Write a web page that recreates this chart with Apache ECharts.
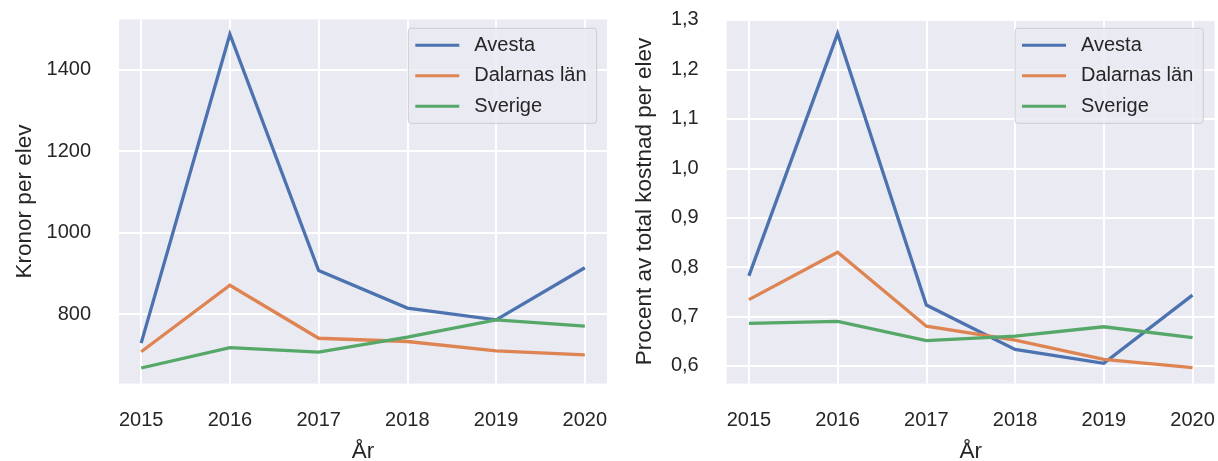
<!DOCTYPE html>
<html>
<head>
<meta charset="utf-8">
<script src="https://cdn.jsdelivr.net/npm/echarts@6/dist/echarts.min.js"></script>
<style>
html,body{margin:0;padding:0;background:#fff;}
#c{width:1218px;height:461px;}
</style>
</head>
<body>
<div id="c"></div>
<script>
// ---- data ----
const years = [2015, 2016, 2017, 2018, 2019, 2020];
const seriesNames = ['Avesta', 'Dalarnas län', 'Sverige'];
// Left panel: Kronor per elev
const kronorAvesta   = [729, 1487, 907, 815, 786, 914];
const kronorDalarna  = [708, 871, 741, 733, 710, 700];
const kronorSverige  = [668, 718, 707, 744, 786, 771];
// Right panel: Procent av total kostnad per elev
const procentAvesta  = [0.782, 1.273, 0.723, 0.633, 0.605, 0.743];
const procentDalarna = [0.734, 0.830, 0.680, 0.652, 0.613, 0.596];
const procentSverige = [0.686, 0.690, 0.651, 0.660, 0.679, 0.657];
const xLabelText = 'År';
const yLabelLeft = 'Kronor per elev';
const yLabelRight = 'Procent av total kostnad per elev';

const colors = ['#4c72b0', '#dd8452', '#55a868'];
const textColor = '#262626';
const fontFam = '"Liberation Sans", Arial, sans-serif';

function pairs(vals){ return years.map((y,i)=>[y, vals[i]]); }

const chart = echarts.init(document.getElementById('c'), null, {renderer:'canvas'});

function xAxisDef(gi){
  return {
    type:'value', gridIndex:gi, min:2014.75, max:2020.25,
    minInterval:1, maxInterval:1,
    name:xLabelText, nameLocation:'middle', nameGap:57,
    nameTextStyle:{color:textColor, fontSize:22.5, fontFamily:fontFam},
    axisLine:{show:false}, axisTick:{show:false},
    axisLabel:{color:textColor, fontSize:20, fontFamily:fontFam, margin:27,
      showMinLabel:false, showMaxLabel:false,
      formatter:v => (Number.isInteger(v) ? String(v) : '')},
    splitLine:{show:true, showMinLine:false, showMaxLine:false, lineStyle:{color:'#ffffff', width:2}}
  };
}

const gridCommon = {top:19.5, width:488, height:364, show:true, backgroundColor:'#eaeaf2',
  borderWidth:0, containLabel:false, outerBoundsMode:'none'};

const option = {
  animation:false,
  color:colors,
  grid:[
    Object.assign({left:119}, gridCommon),
    Object.assign({left:726.7}, gridCommon)
  ],
  xAxis:[xAxisDef(0), xAxisDef(1)],
  yAxis:[
    {type:'value', gridIndex:0, min:630, max:1523, minInterval:200, maxInterval:200,
     name:yLabelLeft, nameLocation:'middle', nameGap:83,
     nameTextStyle:{color:textColor, fontSize:22.5, fontFamily:fontFam},
     axisLine:{show:false}, axisTick:{show:false},
     axisLabel:{color:textColor, fontSize:20, fontFamily:fontFam, margin:28,
       showMinLabel:false, showMaxLabel:false,
       formatter:v => (v % 200 === 0 ? String(v) : '')},
     splitLine:{show:true, showMinLine:false, showMaxLine:false, lineStyle:{color:'#ffffff', width:2}}
    },
    {type:'value', gridIndex:1, min:0.564, max:1.3015, minInterval:0.1, maxInterval:0.1,
     name:yLabelRight, nameLocation:'middle', nameGap:70,
     nameTextStyle:{color:textColor, fontSize:22.5, fontFamily:fontFam},
     axisLine:{show:false}, axisTick:{show:false},
     axisLabel:{color:textColor, fontSize:20, fontFamily:fontFam, margin:28,
       showMinLabel:false, showMaxLabel:true,
       formatter:v => {
         const r = Math.round(v*10)/10;
         if (Math.abs(r - v) > 0.004) return '';
         return r.toFixed(1).replace('.', ',');
       }},
     splitLine:{show:true, showMinLine:false, showMaxLine:false, lineStyle:{color:'#ffffff', width:2}}
    }
  ],
  legend:[
    {left:408.3, top:28.3, orient:'vertical', data:seriesNames,
     icon:'rect', itemWidth:44, itemHeight:3, itemGap:10.5,
     padding:[7,10,7,7], backgroundColor:'rgba(234,234,242,0.8)', borderColor:'#cccccc', borderWidth:1, borderRadius:3,
     textStyle:{color:textColor, fontSize:20, fontFamily:fontFam, padding:[0,0,0,10]}},
    {left:1015, top:28.3, orient:'vertical', data:seriesNames,
     icon:'rect', itemWidth:44, itemHeight:3, itemGap:10.5,
     padding:[7,10,7,7], backgroundColor:'rgba(234,234,242,0.8)', borderColor:'#cccccc', borderWidth:1, borderRadius:3,
     textStyle:{color:textColor, fontSize:20, fontFamily:fontFam, padding:[0,0,0,10]}}
  ],
  series:[
    {name:seriesNames[0], type:'line', xAxisIndex:0, yAxisIndex:0, data:pairs(kronorAvesta)},
    {name:seriesNames[1], type:'line', xAxisIndex:0, yAxisIndex:0, data:pairs(kronorDalarna)},
    {name:seriesNames[2], type:'line', xAxisIndex:0, yAxisIndex:0, data:pairs(kronorSverige)},
    {name:seriesNames[0], type:'line', xAxisIndex:1, yAxisIndex:1, data:pairs(procentAvesta)},
    {name:seriesNames[1], type:'line', xAxisIndex:1, yAxisIndex:1, data:pairs(procentDalarna)},
    {name:seriesNames[2], type:'line', xAxisIndex:1, yAxisIndex:1, data:pairs(procentSverige)}
  ].map((s,i)=>Object.assign(s,{
    symbol:'none', showSymbol:false, color:colors[i%3],
    lineStyle:{width:3.3, color:colors[i%3], cap:'butt', join:'miter'},
    emphasis:{disabled:true}
  }))
};
chart.setOption(option);
</script>
</body>
</html>
